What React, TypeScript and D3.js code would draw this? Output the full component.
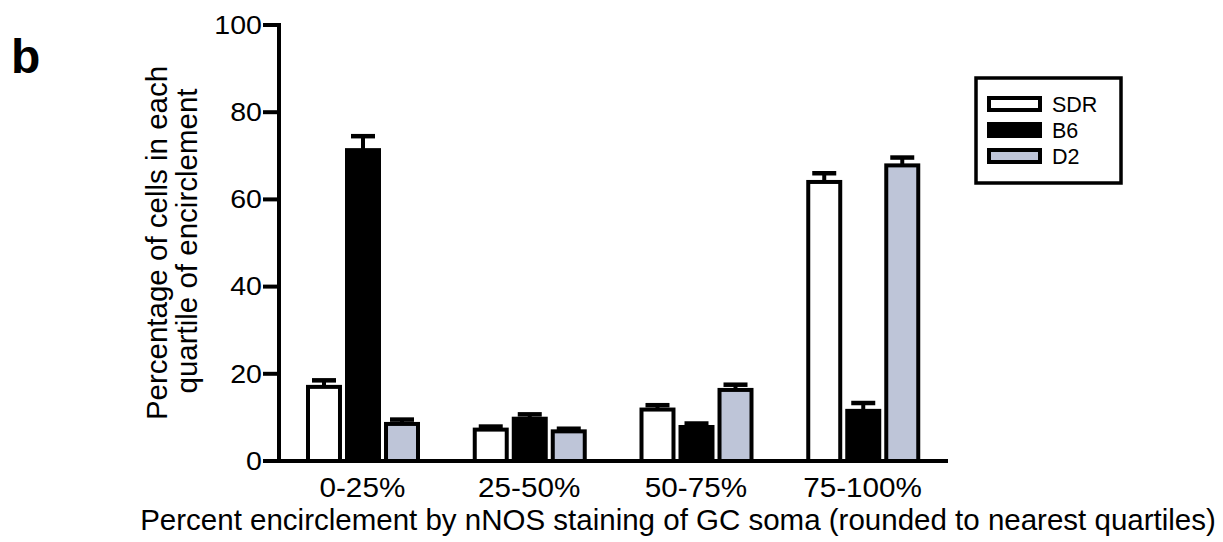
import React from "react";
import { scaleBand, scaleLinear } from "d3";

const categories = ["0-25%", "25-50%", "50-75%", "75-100%"];
const series = ["SDR", "B6", "D2"];
const sdr = [17.0, 7.2, 11.8, 64.0];
const b6 = [71.3, 9.7, 7.8, 11.5];
const d2 = [8.5, 6.8, 16.3, 67.8];
const sdrErr = [1.5, 0.7, 1.0, 2.0];
const b6Err = [3.2, 1.0, 0.8, 1.8];
const d2Err = [1.0, 0.6, 1.2, 1.8];
const yTicks = [0, 20, 40, 60, 80, 100];

const values = [sdr, b6, d2];
const errors = [sdrErr, b6Err, d2Err];
const fills = ["#ffffff", "#000000", "#bec5d8"];

const width = 1223;
const height = 542;
const font = "'Liberation Sans', Arial, sans-serif";

const y = scaleLinear().domain([0, 100]).range([461, 25]);
const x0 = scaleBand().domain(categories).range([279, 946]).padding(0);
const x1 = scaleBand().domain(series).range([29, 139]).paddingInner(0.18);

const App = () => {
  const axisX = 279;
  return (
    <svg
      width={width}
      height={height}
      style={{ position: "absolute", left: 0, top: 0, background: "#fff" }}
      fontFamily={font}
    >
      <text x={11} y={73} fontSize={48} fontWeight="bold">
        b
      </text>

      {/* bars */}
      {categories.map((c, i) => (
        <g key={c} transform={`translate(${x0(c)},0)`}>
          {series.map((s, j) => {
            const v = values[j][i];
            const e = errors[j][i];
            const bx = x1(s)!;
            const bw = x1.bandwidth();
            const cx = bx + bw / 2;
            return (
              <g key={s}>
                <line x1={cx} x2={cx} y1={y(v)} y2={y(v + e)} stroke="#000" strokeWidth={4} />
                <line
                  x1={cx - 12}
                  x2={cx + 12}
                  y1={y(v + e)}
                  y2={y(v + e)}
                  stroke="#000"
                  strokeWidth={4.5}
                />
                <rect
                  x={bx}
                  y={y(v)}
                  width={bw}
                  height={y(0) - y(v)}
                  fill={fills[j]}
                  stroke="#000"
                  strokeWidth={4}
                />
              </g>
            );
          })}
        </g>
      ))}

      {/* y axis */}
      <line x1={axisX} x2={axisX} y1={y(100) - 2} y2={y(0)} stroke="#000" strokeWidth={4} />
      {yTicks.map((t) => (
        <g key={t}>
          <line x1={axisX - 16} x2={axisX} y1={y(t)} y2={y(t)} stroke="#000" strokeWidth={4} />
          <text
            transform={`translate(${axisX - 17},${y(t) + 8.8}) scale(1.12,1)`}
            fontSize={25.5}
            textAnchor="end"
          >
            {t}
          </text>
        </g>
      ))}

      {/* x axis */}
      <line x1={263} x2={948} y1={y(0)} y2={y(0)} stroke="#000" strokeWidth={4} />
      {categories.map((c) => (
        <text
          key={c}
          transform={`translate(${x0(c)! + x0.bandwidth() / 2},497) scale(1.06,1)`}
          fontSize={28}
          textAnchor="middle"
        >
          {c}
        </text>
      ))}
      <text x={678} y={530} fontSize={29.5} textAnchor="middle">
        Percent encirclement by nNOS staining of GC soma (rounded to nearest quartiles)
      </text>

      {/* y title */}
      <g transform={`translate(167,${(y(0) + y(100)) / 2}) rotate(-90)`}>
        <text x={0} y={0} fontSize={29.5} textAnchor="middle">
          Percentage of cells in each
        </text>
        <text x={2} y={30} fontSize={29.5} textAnchor="middle">
          quartile of encirclement
        </text>
      </g>

      {/* legend */}
      <rect x={976} y={78} width={145} height={105} fill="#fff" stroke="#000" strokeWidth={3.5} />
      {series.map((s, j) => (
        <g key={s} transform={`translate(0,${j * 26})`}>
          <rect x={989} y={98} width={51} height={12} fill={fills[j]} stroke="#000" strokeWidth={4} />
          <text x={1052} y={112} fontSize={21.5}>
            {s}
          </text>
        </g>
      ))}
    </svg>
  );
};

export default App;
